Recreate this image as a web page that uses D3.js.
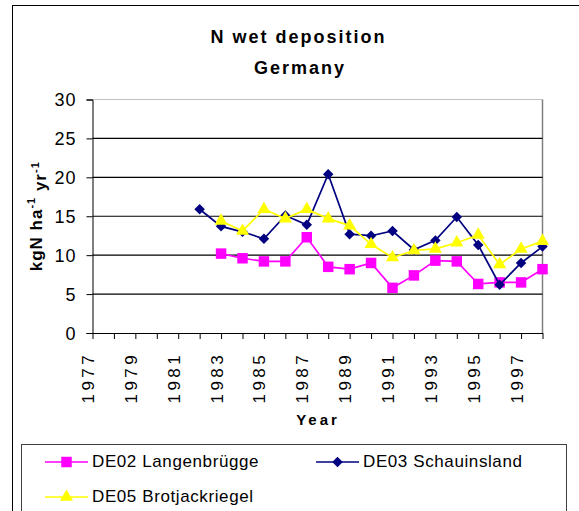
<!DOCTYPE html>
<html>
<head>
<meta charset="utf-8">
<script src="https://cdn.jsdelivr.net/npm/d3@7"></script>
<style>
  body { margin: 0; background: #fff; }
  text { font-family: Arial, "Liberation Sans", sans-serif; fill: #000; }
</style>
</head>
<body>
<svg id="chart" width="579" height="511"></svg>
<script>
// categories
const years = [1977, 1978, 1979, 1980, 1981, 1982, 1983, 1984, 1985, 1986, 1987,
               1988, 1989, 1990, 1991, 1992, 1993, 1994, 1995, 1996, 1997, 1998];
// kgN ha-1 yr-1, null = no measurement
const de02 = [null, null, null, null, null, null, 10.2, 9.6, 9.2, 9.2, 12.3,
              8.5, 8.2, 9.0, 5.8, 7.4, 9.3, 9.2, 6.3, 6.5, 6.5, 8.2];
const de03 = [null, null, null, null, null, 15.9, 13.7, 13.0, 12.1, 15.1, 13.9,
              20.4, 12.7, 12.5, 13.1, 10.7, 11.9, 14.9, 11.3, 6.2, 9.0, 11.1];
const de05 = [null, null, null, null, null, null, 14.4, 13.1, 15.9, 14.7, 15.9,
              14.7, 13.8, 11.4, 9.7, 10.6, 10.8, 11.6, 12.6, 8.8, 10.8, 11.8];
const yTicks = [0, 5, 10, 15, 20, 25, 30];
const xLabels = [1977, 1979, 1981, 1983, 1985, 1987, 1989, 1991, 1993, 1995, 1997];

const series = [
  {name: "DE02 Langenbrügge", values: de02, color: "#ff00ff", shape: "square"},
  {name: "DE03 Schauinsland", values: de03, color: "#000080", shape: "diamond"},
  {name: "DE05 Brotjackriegel", values: de05, color: "#ffff00", shape: "triangle"}
];

const svg = d3.select("#chart");
const plot = {left: 92.5, right: 542.5, top: 99.5, bottom: 333};

// outer chart frame (runs off the picture right and bottom)
svg.append("rect")
    .attr("x", 12.5).attr("y", 5.5)
    .attr("width", 700).attr("height", 700)
    .attr("fill", "#fff").attr("stroke", "#000");

const x = d3.scalePoint().domain(years).range([plot.left, plot.right]);
const y = d3.scaleLinear().domain([0, 30]).range([plot.bottom, plot.top]);

// plot area border
svg.append("line")
    .attr("x1", plot.left).attr("x2", plot.right)
    .attr("y1", plot.top).attr("y2", plot.top)
    .attr("stroke", "#c0c0c0");
svg.append("line")
    .attr("x1", plot.right).attr("x2", plot.right)
    .attr("y1", plot.top).attr("y2", plot.bottom)
    .attr("stroke", "#808080").attr("stroke-width", 1.5);

// gridlines
svg.append("g")
  .selectAll("line")
  .data(yTicks.filter(d => d > 0 && d < 30))
  .enter().append("line")
    .attr("x1", plot.left).attr("x2", plot.right)
    .attr("y1", d => y(d)).attr("y2", d => y(d))
    .attr("stroke", "#000").attr("stroke-width", 1.1);

// y axis
const yAxis = svg.append("g")
    .attr("transform", `translate(${plot.left},0)`)
    .call(d3.axisLeft(y).tickValues(yTicks).tickSize(6).tickPadding(10));
yAxis.select(".domain").attr("stroke", "#000");
yAxis.selectAll("text")
    .style("font-size", "18px")
    .style("letter-spacing", "1px")
    .attr("dy", "0.36em");

// x axis
const xAxis = svg.append("g")
    .attr("transform", `translate(0,${plot.bottom})`)
    .call(d3.axisBottom(x).tickSize(6).tickSizeOuter(0).tickFormat(""));
xAxis.select(".domain").attr("stroke", "#000");

svg.append("g")
  .selectAll("text")
  .data(xLabels)
  .enter().append("text")
    .attr("transform", d => `translate(${x(d) + 1.5},${plot.bottom + 19}) rotate(-90)`)
    .attr("text-anchor", "end")
    .style("font-size", "17px")
    .style("letter-spacing", "3.4px")
    .text(d => d);

// titles
svg.append("text")
    .attr("x", 298.5).attr("y", 43)
    .attr("text-anchor", "middle")
    .style("font-size", "18px").style("font-weight", "bold")
    .style("letter-spacing", "2px")
    .text("N wet deposition");
svg.append("text")
    .attr("x", 300).attr("y", 73.5)
    .attr("text-anchor", "middle")
    .style("font-size", "18px").style("font-weight", "bold")
    .style("letter-spacing", "2px")
    .text("Germany");
svg.append("text")
    .attr("x", 318).attr("y", 425)
    .attr("text-anchor", "middle")
    .style("font-size", "15px").style("font-weight", "bold")
    .style("letter-spacing", "3px")
    .text("Year");

const yTitle = svg.append("text")
    .attr("transform", `translate(42,${(plot.top + plot.bottom) / 2}) rotate(-90)`)
    .attr("text-anchor", "middle")
    .style("font-size", "17px").style("font-weight", "bold")
    .style("letter-spacing", "1px");
yTitle.append("tspan").text("kgN ha");
yTitle.append("tspan").attr("dy", "-0.6em").style("font-size", "11px").text("-1");
yTitle.append("tspan").attr("dy", "0.6em").text(" yr");
yTitle.append("tspan").attr("dy", "-0.6em").style("font-size", "11px").text("-1");

// marker shapes
const symbols = {
  square: d3.symbol().type(d3.symbolSquare).size(110),
  diamond: d3.symbol().type(d3.symbolDiamond2).size(70),
  triangle: d3.symbol().type(d3.symbolTriangle).size(75)
};

const line = d3.line()
    .defined(d => d.v !== null)
    .x(d => x(d.year))
    .y(d => y(d.v));

series.forEach(s => {
  const pts = years.map((yr, i) => ({year: yr, v: s.values[i]}));
  svg.append("path")
      .datum(pts)
      .attr("fill", "none")
      .attr("stroke", s.color)
      .attr("stroke-width", 1.7)
      .attr("d", line);
  svg.append("g")
    .selectAll("path")
    .data(pts.filter(d => d.v !== null))
    .enter().append("path")
      .attr("transform", d => `translate(${x(d.year)},${y(d.v)})`)
      .attr("d", symbols[s.shape])
      .attr("fill", s.color);
});

// legend
svg.append("rect")
    .attr("x", 21.5).attr("y", 444.5)
    .attr("width", 545).attr("height", 120)
    .attr("fill", "#fff").attr("stroke", "#404040");

const legendPos = [
  {x: 45, y: 467},
  {x: 316, y: 467},
  {x: 45, y: 502}
];
series.forEach((s, i) => {
  const p = legendPos[i];
  const g = svg.append("g").attr("transform", `translate(${p.x},0)`);
  g.append("line")
      .attr("x1", 0).attr("x2", 43)
      .attr("y1", p.y - 5).attr("y2", p.y - 5)
      .attr("stroke", s.color).attr("stroke-width", 1.7);
  g.append("path")
      .attr("transform", `translate(21.5,${p.y - 5})`)
      .attr("d", symbols[s.shape])
      .attr("fill", s.color);
  g.append("text")
      .attr("x", 47).attr("y", p.y)
      .style("font-size", "17px")
      .style("letter-spacing", "0.6px")
      .text(s.name);
});
</script>
</body>
</html>
